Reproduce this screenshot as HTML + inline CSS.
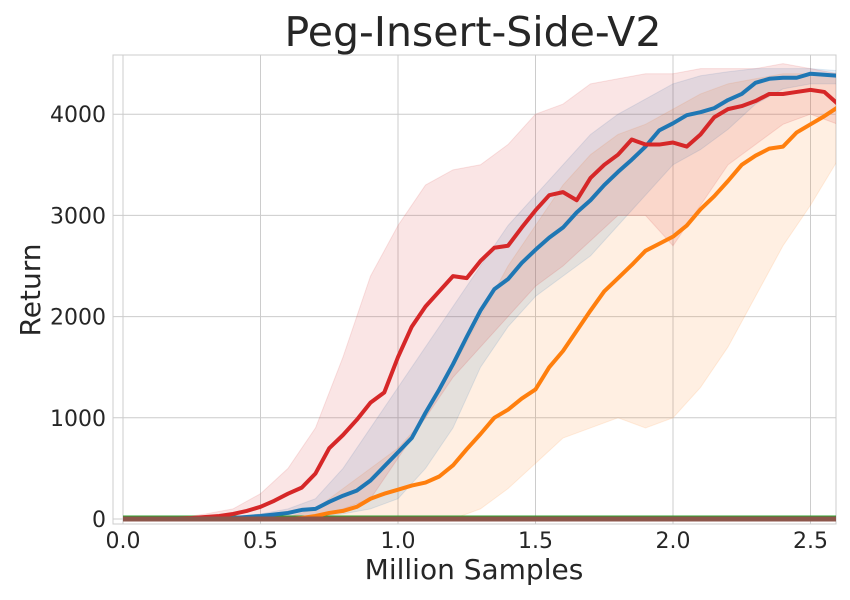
<!DOCTYPE html>
<html><head><meta charset="utf-8"><style>
body{margin:0;background:#fff;font-family:"DejaVu Sans","Liberation Sans",sans-serif}
svg{display:block}
</style></head><body>
<svg id="c" width="850" height="600" xmlns="http://www.w3.org/2000/svg" font-family="DejaVu Sans, Liberation Sans, sans-serif"></svg>
<script>
const xsMean=[0,0.05,0.1,0.15,0.2,0.25,0.3,0.35,0.4,0.45,0.5,0.55,0.6,0.65,0.7,0.75,0.8,0.85,0.9,0.95,1.0,1.05,1.1,1.15,1.2,1.25,1.3,1.35,1.4,1.45,1.5,1.55,1.6,1.65,1.7,1.75,1.8,1.85,1.9,1.95,2.0,2.05,2.1,2.15,2.2,2.25,2.3,2.35,2.4,2.45,2.5,2.55,2.6];
const blueMean=[0,0,0,0,0,2,5,7,10,20,30,45,60,90,100,170,230,280,380,520,660,800,1050,1280,1530,1800,2060,2270,2370,2530,2660,2780,2880,3030,3150,3300,3430,3550,3680,3840,3910,3990,4020,4060,4140,4200,4310,4350,4360,4360,4400,4390,4380];
const orangeMean=[0,0,0,0,0,0,0,0,0,0,0,0,0,10,30,60,80,120,200,250,290,330,360,420,530,690,840,1000,1080,1190,1280,1500,1660,1860,2060,2250,2380,2510,2650,2720,2790,2900,3060,3190,3340,3500,3590,3660,3680,3820,3900,3980,4070];
const redMean=[0,0,0,2,5,10,20,30,50,80,120,180,250,310,450,700,830,980,1150,1250,1600,1900,2100,2250,2400,2380,2550,2680,2700,2880,3050,3200,3230,3150,3370,3500,3600,3750,3700,3700,3720,3680,3800,3970,4050,4080,4130,4200,4200,4220,4240,4220,4100];
const greenMean=[15,15];
const brownMean=[0,0];
const flatX=[0,2.6];
const xsBand=[0,0.1,0.2,0.3,0.4,0.5,0.6,0.7,0.8,0.9,1.0,1.1,1.2,1.3,1.4,1.5,1.6,1.7,1.8,1.9,2.0,2.1,2.2,2.3,2.4,2.5,2.6];
const redHi=[0,0,10,50,100,250,500,900,1600,2400,2900,3300,3450,3500,3700,4000,4100,4300,4350,4400,4400,4450,4450,4450,4500,4450,4400];
const redLo=[0,0,0,0,0,0,0,30,100,200,600,1000,1400,1700,2000,2300,2500,2750,3000,3000,2700,3100,3500,3700,3900,4000,3900];
const blueHi=[0,0,0,10,20,50,100,200,500,900,1300,1700,2100,2500,2900,3200,3500,3800,4000,4150,4300,4380,4420,4450,4450,4450,4430];
const blueLo=[0,0,0,0,0,0,0,20,50,100,200,500,900,1500,1900,2200,2400,2600,2900,3200,3500,3650,3850,4100,4250,4300,4300];
const orangeHi=[0,0,0,0,0,0,20,100,300,500,700,1000,1500,2000,2500,2900,3300,3600,3800,3900,4050,4200,4300,4350,4400,4400,4400];
const orangeLo=[0,0,0,0,0,0,0,0,0,0,0,0,0,100,300,550,800,900,1000,900,1000,1300,1700,2200,2700,3100,3550];
const xTicks=[0,0.5,1.0,1.5,2.0,2.5];
const xTickLabels=["0.0","0.5","1.0","1.5","2.0","2.5"];
const yTicks=[0,1000,2000,3000,4000];
const yTickLabels=["0","1000","2000","3000","4000"];

const NS="http://www.w3.org/2000/svg";
const svg=document.getElementById('c');
const L=113,R=836,T=55,B=524;
const X=v=>123+v*275;
const Y=v=>519-v*0.1012;
function mk(tag,attrs,parent){const e=document.createElementNS(NS,tag);for(const k in attrs)e.setAttribute(k,attrs[k]);(parent||svg).appendChild(e);return e;}
const defs=mk('defs',{});
const cp=mk('clipPath',{id:'clip'},defs);
mk('rect',{x:L,y:T,width:R-L,height:B-T},cp);
const bg=mk('rect',{x:L,y:T,width:R-L,height:B-T,fill:'#fff',stroke:'#ccc','stroke-width':1});


xTicks.forEach((t,i)=>{
  const g=mk('line',{x1:X(t),x2:X(t),y1:T,y2:B,stroke:'#ccc','stroke-width':1});
  
  
  const tx=mk('text',{x:X(t),y:548,'font-size':22,'text-anchor':'middle',fill:'#262626'});
  tx.textContent=xTickLabels[i];
  
  
});
yTicks.forEach((t,i)=>{
  const g=mk('line',{x1:L,x2:R,y1:Y(t),y2:Y(t),stroke:'#ccc','stroke-width':1});
  
  
  const tx=mk('text',{x:106,y:Y(t)+8,'font-size':22,'text-anchor':'end',fill:'#262626'});
  tx.textContent=yTickLabels[i];
  
  
});
const plot=mk('g',{'clip-path':'url(#clip)'});
function band(lo,hi,color,name){
  let d='M'+xsBand.map((x,i)=>X(x)+','+Y(hi[i])).join('L');
  d+='L'+xsBand.map((x,i)=>[X(x),Y(lo[i])]).reverse().map(p=>p.join(',')).join('L')+'Z';
  const p=mk('path',{d:d,fill:color,'fill-opacity':0.12,stroke:color,'stroke-opacity':0.12},plot);
  
  
}
function line(xs,ys,color,name,w){
  const p=mk('path',{d:'M'+xs.map((x,i)=>X(x)+','+Y(ys[i])).join('L'),fill:'none',stroke:color,'stroke-width':w||4,'stroke-linejoin':'round'},plot);
  
  
}
band(orangeLo,orangeHi,'#ff7f0e','orange-band');
band(blueLo,blueHi,'#1f77b4','blue-band');
band(redLo,redHi,'#d62728','red-band');
line(flatX,greenMean,'#2ca02c','green-line',4);
line(xsMean,orangeMean,'#ff7f0e','orange-line');
line(xsMean,blueMean,'#1f77b4','blue-line');
line(xsMean,redMean,'#d62728','red-line');
line(flatX,brownMean,'#8c564b','brown-line',5);
const title=mk('text',{x:473,y:46,'font-size':41,'text-anchor':'middle',fill:'#262626'});
title.textContent='Peg-Insert-Side-V2';


const xl=mk('text',{x:474,y:579,'font-size':28,'text-anchor':'middle',fill:'#262626'});
xl.textContent='Million Samples';


const yl=mk('text',{x:40,y:290,'font-size':28,'text-anchor':'middle',fill:'#262626',transform:'rotate(-90 40 290)'});
yl.textContent='Return';


</script>
</body></html>
